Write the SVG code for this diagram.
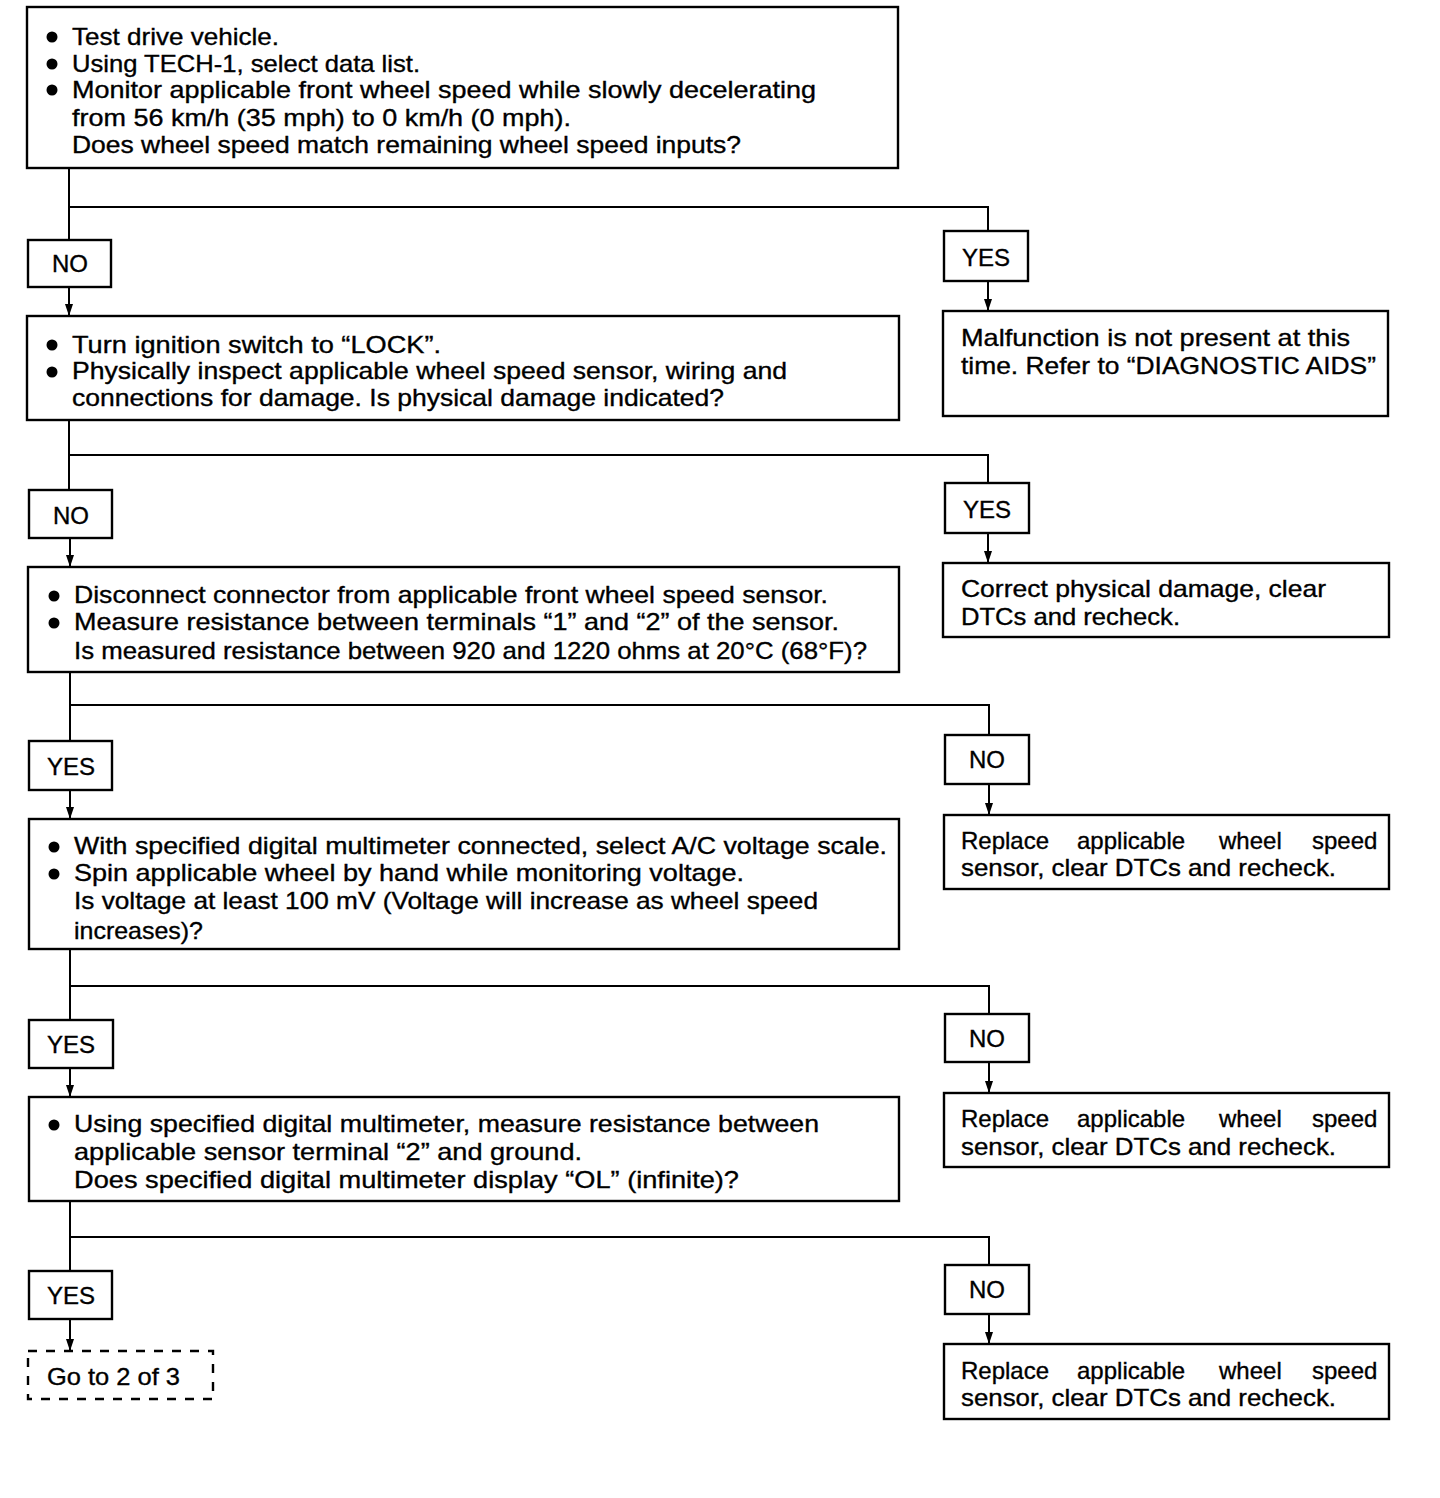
<svg xmlns="http://www.w3.org/2000/svg" width="1440" height="1498" viewBox="0 0 1440 1498">
<style>
.box{fill:#fff;stroke:#000;stroke-width:2.4}
.dash{fill:#fff;stroke:#000;stroke-width:2.4;stroke-dasharray:9 9}
.t{font-family:"Liberation Sans",Arial,sans-serif;font-size:24px;fill:#000;stroke:#000;stroke-width:0.35}
.lab{font-family:"Liberation Sans",Arial,sans-serif;font-size:24px;fill:#000;stroke:#000;stroke-width:0.35;text-anchor:middle}
.c{fill:none;stroke:#000;stroke-width:2}
.b{fill:#000}
</style>
<defs>
<marker id="ah" viewBox="0 0 12 10" refX="12" refY="5" markerWidth="12" markerHeight="10" markerUnits="userSpaceOnUse" orient="auto">
<path d="M0,1 L12,5 L0,9 Z" fill="#000"/>
</marker>
</defs>
<rect width="1440" height="1498" fill="#fff"/>

<g id="connectors">
<path class="c" d="M69,168 V240"/>
<path class="c" d="M69,207 H988 V231"/>
<path class="c" d="M69,287 V316" marker-end="url(#ah)"/>
<path class="c" d="M988,281 V311" marker-end="url(#ah)"/>
<path class="c" d="M69,420 V490"/>
<path class="c" d="M69,455 H988 V483"/>
<path class="c" d="M70,538 V567" marker-end="url(#ah)"/>
<path class="c" d="M988,533 V563" marker-end="url(#ah)"/>
<path class="c" d="M70,672 V741"/>
<path class="c" d="M70,705 H989 V735"/>
<path class="c" d="M70,790 V819" marker-end="url(#ah)"/>
<path class="c" d="M989,784 V815" marker-end="url(#ah)"/>
<path class="c" d="M70,949 V1020"/>
<path class="c" d="M70,986 H989 V1014"/>
<path class="c" d="M70,1068 V1097" marker-end="url(#ah)"/>
<path class="c" d="M989,1062 V1093" marker-end="url(#ah)"/>
<path class="c" d="M70,1201 V1271"/>
<path class="c" d="M70,1237 H989 V1265"/>
<path class="c" d="M70,1319 V1351" marker-end="url(#ah)"/>
<path class="c" d="M989,1314 V1344" marker-end="url(#ah)"/>
</g>

<g id="step1">
<rect class="box" x="27" y="7" width="871" height="161"/>
<circle class="b" cx="52" cy="37" r="5.5"/>
<circle class="b" cx="52" cy="64" r="5.5"/>
<circle class="b" cx="52" cy="90" r="5.5"/>
<text class="t" x="72" y="45" textLength="207" lengthAdjust="spacingAndGlyphs">Test drive vehicle.</text>
<text class="t" x="72" y="72" textLength="348" lengthAdjust="spacingAndGlyphs">Using TECH-1, select data list.</text>
<text class="t" x="72" y="98" textLength="744" lengthAdjust="spacingAndGlyphs">Monitor applicable front wheel speed while slowly decelerating</text>
<text class="t" x="72" y="126" textLength="499" lengthAdjust="spacingAndGlyphs">from 56 km/h (35 mph) to 0 km/h (0 mph).</text>
<text class="t" x="72" y="153" textLength="669" lengthAdjust="spacingAndGlyphs">Does wheel speed match remaining wheel speed inputs?</text>
</g>
<g id="no1">
<rect class="box" x="28" y="240" width="83" height="47"/>
<text class="lab" x="70" y="272">NO</text>
</g>
<g id="yes1">
<rect class="box" x="944" y="231" width="84" height="50"/>
<text class="lab" x="986" y="266">YES</text>
</g>
<g id="result1">
<rect class="box" x="943" y="311" width="445" height="105"/>
<text class="t" x="961" y="346" textLength="389" lengthAdjust="spacingAndGlyphs">Malfunction is not present at this</text>
<text class="t" x="961" y="374" textLength="415" lengthAdjust="spacingAndGlyphs">time. Refer to “DIAGNOSTIC AIDS”</text>
</g>

<g id="step2">
<rect class="box" x="27" y="316" width="872" height="104"/>
<circle class="b" cx="52" cy="345" r="5.5"/>
<circle class="b" cx="52" cy="372" r="5.5"/>
<text class="t" x="72" y="353" textLength="369" lengthAdjust="spacingAndGlyphs">Turn ignition switch to “LOCK”.</text>
<text class="t" x="72" y="379" textLength="715" lengthAdjust="spacingAndGlyphs">Physically inspect applicable wheel speed sensor, wiring and</text>
<text class="t" x="72" y="406" textLength="652" lengthAdjust="spacingAndGlyphs">connections for damage. Is physical damage indicated?</text>
</g>
<g id="no2">
<rect class="box" x="29" y="490" width="83" height="48"/>
<text class="lab" x="71" y="524">NO</text>
</g>
<g id="yes2">
<rect class="box" x="945" y="483" width="84" height="50"/>
<text class="lab" x="987" y="518">YES</text>
</g>
<g id="result2">
<rect class="box" x="943" y="563" width="446" height="74"/>
<text class="t" x="961" y="597" textLength="365" lengthAdjust="spacingAndGlyphs">Correct physical damage, clear</text>
<text class="t" x="961" y="625" textLength="219" lengthAdjust="spacingAndGlyphs">DTCs and recheck.</text>
</g>

<g id="step3">
<rect class="box" x="28" y="567" width="871" height="105"/>
<circle class="b" cx="54" cy="596" r="5.5"/>
<circle class="b" cx="54" cy="623" r="5.5"/>
<text class="t" x="74" y="603" textLength="754" lengthAdjust="spacingAndGlyphs">Disconnect connector from applicable front wheel speed sensor.</text>
<text class="t" x="74" y="630" textLength="765" lengthAdjust="spacingAndGlyphs">Measure resistance between terminals “1” and “2” of the sensor.</text>
<text class="t" x="74" y="659" textLength="793" lengthAdjust="spacingAndGlyphs">Is measured resistance between 920 and 1220 ohms at 20°C (68°F)?</text>
</g>
<g id="yes3">
<rect class="box" x="29" y="741" width="83" height="49"/>
<text class="lab" x="71" y="775">YES</text>
</g>
<g id="no3">
<rect class="box" x="945" y="735" width="84" height="49"/>
<text class="lab" x="987" y="768">NO</text>
</g>
<g id="result3">
<rect class="box" x="944" y="815" width="445" height="74"/>
<text class="t" y="849"><tspan x="961">Replace</tspan><tspan x="1077">applicable</tspan><tspan x="1219">wheel</tspan><tspan x="1312">speed</tspan></text>
<text class="t" x="961" y="876" textLength="375" lengthAdjust="spacingAndGlyphs">sensor, clear DTCs and recheck.</text>
</g>

<g id="step4">
<rect class="box" x="29" y="819" width="870" height="130"/>
<circle class="b" cx="54" cy="847" r="5.5"/>
<circle class="b" cx="54" cy="874" r="5.5"/>
<text class="t" x="74" y="854" textLength="813" lengthAdjust="spacingAndGlyphs">With specified digital multimeter connected, select A/C voltage scale.</text>
<text class="t" x="74" y="881" textLength="670" lengthAdjust="spacingAndGlyphs">Spin applicable wheel by hand while monitoring voltage.</text>
<text class="t" x="74" y="909" textLength="744" lengthAdjust="spacingAndGlyphs">Is voltage at least 100 mV (Voltage will increase as wheel speed</text>
<text class="t" x="74" y="939" textLength="129" lengthAdjust="spacingAndGlyphs">increases)?</text>
</g>
<g id="yes4">
<rect class="box" x="29" y="1020" width="84" height="48"/>
<text class="lab" x="71" y="1053">YES</text>
</g>
<g id="no4">
<rect class="box" x="945" y="1014" width="84" height="48"/>
<text class="lab" x="987" y="1047">NO</text>
</g>
<g id="result4">
<rect class="box" x="944" y="1093" width="445" height="74"/>
<text class="t" y="1127"><tspan x="961">Replace</tspan><tspan x="1077">applicable</tspan><tspan x="1219">wheel</tspan><tspan x="1312">speed</tspan></text>
<text class="t" x="961" y="1155" textLength="375" lengthAdjust="spacingAndGlyphs">sensor, clear DTCs and recheck.</text>
</g>

<g id="step5">
<rect class="box" x="29" y="1097" width="870" height="104"/>
<circle class="b" cx="54" cy="1125" r="5.5"/>
<text class="t" x="74" y="1132" textLength="745" lengthAdjust="spacingAndGlyphs">Using specified digital multimeter, measure resistance between</text>
<text class="t" x="74" y="1160" textLength="508" lengthAdjust="spacingAndGlyphs">applicable sensor terminal “2” and ground.</text>
<text class="t" x="74" y="1188" textLength="665" lengthAdjust="spacingAndGlyphs">Does specified digital multimeter display “OL” (infinite)?</text>
</g>
<g id="yes5">
<rect class="box" x="29" y="1271" width="83" height="48"/>
<text class="lab" x="71" y="1304">YES</text>
</g>
<g id="no5">
<rect class="box" x="945" y="1265" width="84" height="49"/>
<text class="lab" x="987" y="1298">NO</text>
</g>
<g id="result5">
<rect class="box" x="944" y="1344" width="445" height="75"/>
<text class="t" y="1379"><tspan x="961">Replace</tspan><tspan x="1077">applicable</tspan><tspan x="1219">wheel</tspan><tspan x="1312">speed</tspan></text>
<text class="t" x="961" y="1406" textLength="375" lengthAdjust="spacingAndGlyphs">sensor, clear DTCs and recheck.</text>
</g>

<g id="goto">
<rect class="dash" x="28" y="1351" width="185" height="48"/>
<text class="t" x="47" y="1385" textLength="133" lengthAdjust="spacingAndGlyphs">Go to 2 of 3</text>
</g>
</svg>
